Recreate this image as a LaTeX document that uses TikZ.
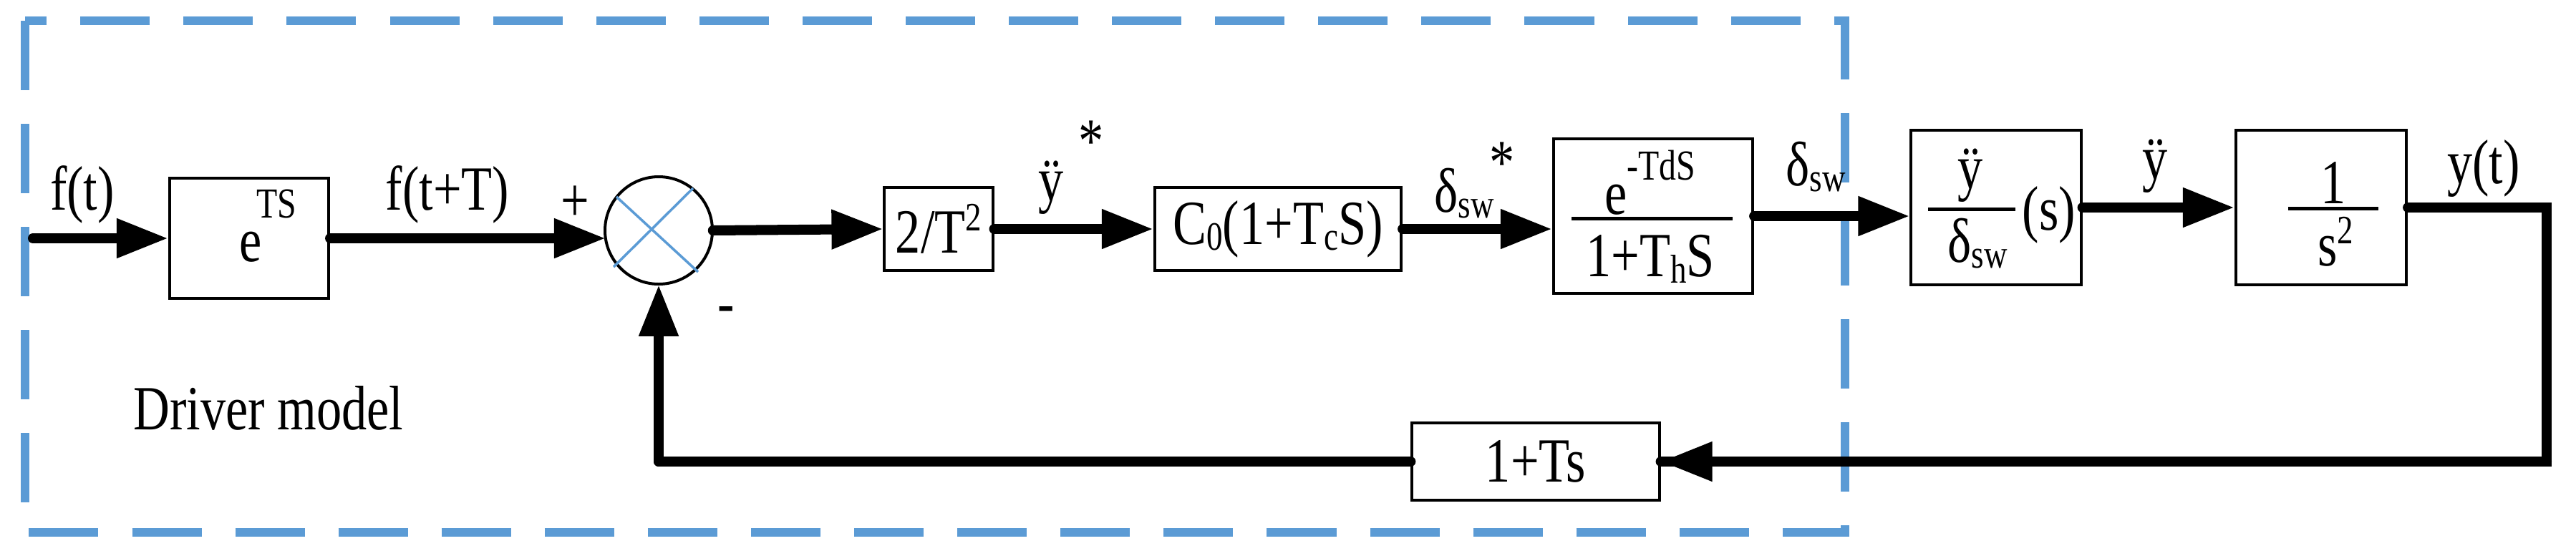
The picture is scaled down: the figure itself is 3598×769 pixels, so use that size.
\documentclass[tikz,border=0pt]{standalone}
\usepackage{fontspec}
\setmainfont[FakeStretch=0.8]{Liberation Serif}
\usetikzlibrary{arrows.meta,calc}
\definecolor{dashblue}{HTML}{5B9BD5}
\begin{document}
\begin{tikzpicture}[x=0.01cm,y=-0.01cm,
  blk/.style={draw,line width=0.04cm,inner sep=0pt},
  sig/.style={line width=0.14cm,line cap=round,-{Triangle[length=0.72cm,width=0.52cm]}},
  wire/.style={line width=0.14cm,line cap=round},
  lbl/.style={inner sep=0pt,font=\fontsize{25}{28}\selectfont},
  sml/.style={inner sep=0pt,font=\fontsize{17}{20}\selectfont}]
\useasboundingbox (0,0) rectangle (3598,769);
% dashed frame
\draw[dashblue,line width=0.12cm,dash pattern=on 0.97cm off 0.47cm] (35,29) rectangle (2577,744);
% blocks
\node[blk,minimum width=2.22cm,minimum height=1.68cm] (b0) at (348,333) {};
\node[lbl] (e0) at (350,345) {e};
\node[sml] (e0s) at (386,285) {TS};
\draw[line width=0.04cm] (920,322) circle (75);
\node[circle,minimum size=1.5cm,inner sep=0pt] (sum) at (920,322) {};
\draw[dashblue,line width=0.035cm] (861,275) -- (975,380) (968,263) -- (857,373);
\node[blk,minimum width=1.51cm,minimum height=1.16cm,lbl] (g1) at (1311,320) {2/T\raisebox{0.35em}{\fontsize{16}{18}\selectfont 2}};
\node[blk,minimum width=3.44cm,minimum height=1.16cm,lbl] (g2) at (1785,320) {C\raisebox{-0.1em}{\fontsize{16}{18}\selectfont 0}(1+T\raisebox{-0.1em}{\fontsize{16}{18}\selectfont c}S)};
\node[blk,minimum width=2.78cm,minimum height=2.15cm] (g3) at (2309,302) {};
\draw[line width=0.05cm] (2195,305) -- (2420,305);
\node[lbl] (g3n) at (2305,255) {e\raisebox{0.55em}{\fontsize{17}{18}\selectfont -TdS}};
\node[lbl] (g3d) at (2305,362) {1+T\raisebox{-0.1em}{\fontsize{16}{18}\selectfont h}S};
\node[blk,minimum width=2.37cm,minimum height=2.16cm] (g4) at (2788,290) {};
\draw[line width=0.05cm] (2693,292) -- (2815,292);
\node[lbl] (g4n) at (2752,245) {ÿ};
\node[lbl] (g4d) at (2762,340) {δ\raisebox{-0.1em}{\fontsize{16}{18}\selectfont sw}};
\node[lbl] (g4s) at (2862,300) {(s)};
\node[blk,minimum width=2.38cm,minimum height=2.16cm] (g5) at (3242,290) {};
\draw[line width=0.05cm] (3196,291) -- (3322,291);
\node[lbl] (g5n) at (3259,255) {1};
\node[lbl] (g5d) at (3262,338) {s\raisebox{0.35em}{\fontsize{16}{18}\selectfont 2}};
\node[blk,minimum width=3.45cm,minimum height=1.07cm,lbl] (fb) at (2145,645) {1+Ts};
% labels
\node[lbl] (l1) at (115,272) {f(t)};
\node[lbl] (l2) at (625,272) {f(t+T)};
\node[lbl] (lp) at (803,285) {+};
\node[lbl] (lm) at (1014,440) {-};
\node[lbl] (ld) at (375,570) {Driver model};
\node[lbl] (l3) at (1468,262) {ÿ};
\node[lbl] (l3s) at (1524,198) {*};
\node[lbl] (l4) at (2045,270) {δ\raisebox{-0.1em}{\fontsize{16}{18}\selectfont sw}};
\node[lbl] (l4s) at (2098,228) {*};
\node[lbl] (l5) at (2536,233) {δ\raisebox{-0.1em}{\fontsize{16}{18}\selectfont sw}};
\node[lbl] (l6) at (3010,232) {ÿ};
\node[lbl] (l7) at (3469,235) {y(t)};
% connectors
\coordinate (in) at (46,333);
\coordinate (c1) at (3557,290);
\coordinate (c2) at (3557,645);
\coordinate (c3) at (920,645);
\draw[sig] (in) -- (b0.west);
\draw[sig] (b0.east) -- (846,333);
\draw[sig] (sum.east) -- (g1.west);
\draw[sig] (g1.east) -- (g2.west);
\draw[sig] (g2.east) -- (g2.east -| g3.west);
\draw[sig] (g3.east) -- (g3.east -| g4.west);
\draw[sig] (g4.east) -- (g5.west);
\draw[wire] (g5.east) -- (c1) -- (c2) -- (fb.east);
\draw[sig] (c2) -- (fb.east);
\draw[wire] (fb.west) -- (c3);
\draw[sig] (c3) -- (sum.south);
\end{tikzpicture}
\end{document}
